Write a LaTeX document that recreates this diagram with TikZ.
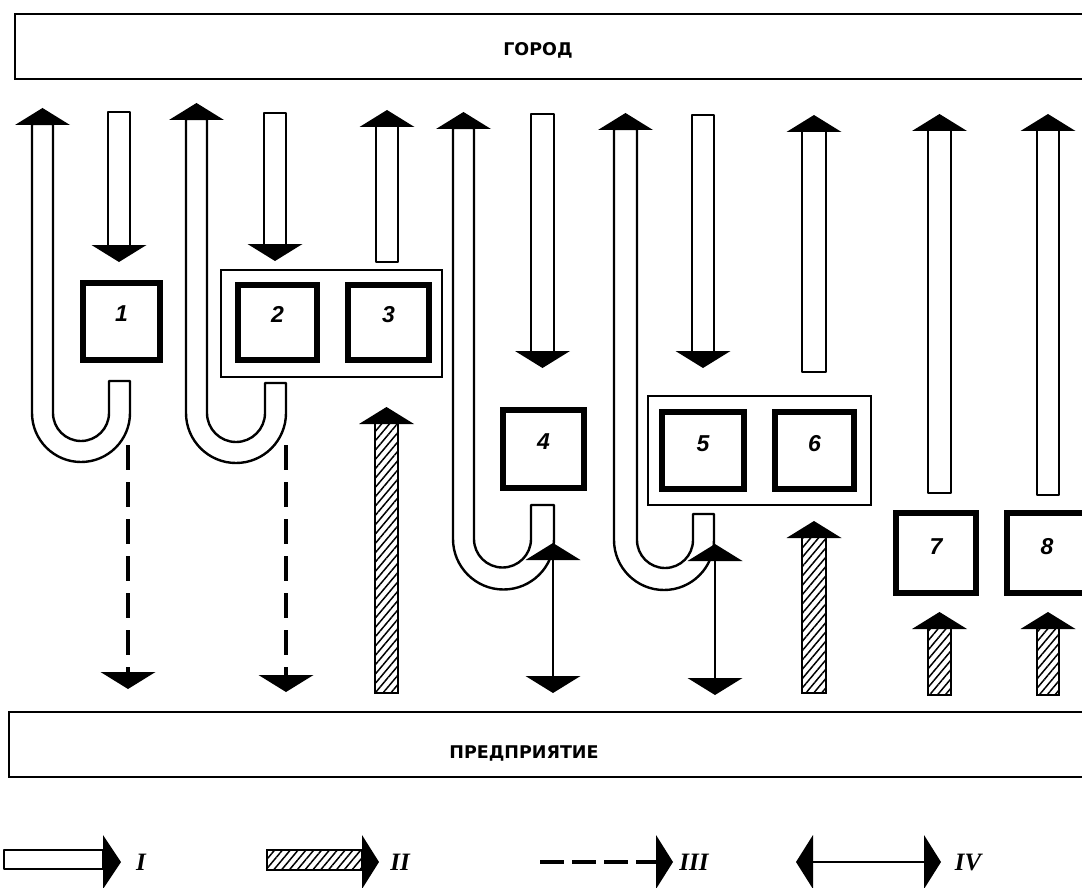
\documentclass[tikz,border=0pt]{standalone}
\usepackage{fontspec}
\setmainfont{Liberation Serif}
\newfontfamily\barfont{DejaVu Sans}
\newfontfamily\digitfont{Liberation Sans}
\usetikzlibrary{patterns.meta}

\newcommand\headUp[2]{\fill ({#1-27.5},{#2+17}) -- ({#1},{#2}) -- ({#1+27.5},{#2+17}) -- cycle;}
\newcommand\headDown[2]{\fill ({#1-27.5},{#2-17}) -- ({#1},{#2}) -- ({#1+27.5},{#2-17}) -- cycle;}
\newcommand\hollowUp[4]{%
  \draw[shaftline] (#1,#3) rectangle (#2,{#4+16});
  \headUp{(#1+#2)/2}{#4}}
\newcommand\hollowDown[4]{%
  \draw[shaftline] (#1,#3) rectangle (#2,{#4-16});
  \headDown{(#1+#2)/2}{#4}}
\newcommand\hatchUp[4]{%
  \draw[hatchline] (#1,#3) rectangle (#2,{#4+16});
  \headUp{(#1+#2)/2}{#4}}
\newcommand\uArrow[7]{%
  \draw[shaftline] (#3,#5) -- (#4,#5) -- (#4,#6)
    arc[start angle=0,end angle=180,radius={(#4-#1)/2}]
    -- (#1,{#7+16}) -- (#2,{#7+16}) -- (#2,#6)
    arc[start angle=180,end angle=0,radius={(#3-#2)/2}] -- cycle;
  \headUp{(#1+#2)/2}{#7}}

\begin{document}
\begin{tikzpicture}[x=1pt,y=-1pt,
  shaftline/.style={line width=2.4pt,fill=white,line join=round},
  hatchline/.style={line width=2.4pt,pattern={Lines[angle=50,distance=6pt,line width=1.5pt]}},
  dashline/.style={line width=3.2pt,dash pattern=on 25pt off 12pt},
  bothline/.style={line width=2.6pt},
  barline/.style={line width=2.8pt},
  box/.style={draw,line width=6.5pt,fill=white,inner sep=0pt,outer sep=0pt},
  grp/.style={draw,line width=2.4pt,inner sep=0pt,outer sep=0pt},
  num/.style={font=\digitfont\bfseries\itshape\fontsize{23}{23}\selectfont,inner sep=0pt},
  bartext/.style={font=\barfont\bfseries\fontsize{17.5}{17.5}\selectfont,inner sep=0pt},
  roman/.style={font=\bfseries\itshape\fontsize{25}{25}\selectfont,inner sep=0pt}]
\useasboundingbox (0,0) rectangle (1082,888);
\clip (0,0) rectangle (1082,888);

% bars
\draw[barline] (1084,14) -- (15,14) -- (15,79) -- (1084,79);
\node[bartext] (gorod) at (538,50) {ГОРОД};
\draw[barline] (1084,712) -- (9,712) -- (9,777) -- (1084,777);
\node[bartext] (pred) at (524,753) {ПРЕДПРИЯТИЕ};

% group frames
\node[grp,minimum width=221,minimum height=107] (g23) at (331.5,323.5) {};
\node[grp,minimum width=223,minimum height=109] (g56) at (759.5,450.5) {};

% U-shaped hollow arrows
\uArrow{32}{53}{109}{130}{381}{413}{108}
\uArrow{186}{207}{265}{286}{383}{413}{103}
\uArrow{453}{474}{531}{554}{505}{539}{112}
\uArrow{614}{637}{693}{714}{514}{540}{113}

% hollow down arrows
\hollowDown{108}{130}{112}{262}
\hollowDown{264}{286}{113}{261}
\hollowDown{531}{554}{114}{368}
\hollowDown{692}{714}{115}{368}

% hollow up arrows
\hollowUp{376}{398}{262}{110}
\hollowUp{802}{826}{372}{115}
\hollowUp{928}{951}{493}{114}
\hollowUp{1037}{1059}{495}{114}

% boxes
\node[box,minimum width=77,minimum height=77,label={[num,yshift=8pt]center:1}] (b1) at (121.5,321.5) {};
\node[box,minimum width=79,minimum height=75,label={[num,yshift=8pt]center:2}] (b2) at (277.5,322.5) {};
\node[box,minimum width=81,minimum height=75,label={[num,yshift=8pt]center:3}] (b3) at (388.5,322.5) {};
\node[box,minimum width=81,minimum height=78,label={[num,yshift=7pt]center:4}] (b4) at (543.5,449) {};
\node[box,minimum width=82,minimum height=77,label={[num,yshift=7pt]center:5}] (b5) at (703,450.5) {};
\node[box,minimum width=79,minimum height=77,label={[num,yshift=7pt]center:6}] (b6) at (814.5,450.5) {};
\node[box,minimum width=80,minimum height=80,label={[num,yshift=6pt]center:7}] (b7) at (936,553) {};
\node[box,minimum width=80,minimum height=80,label={[num,yshift=6pt]center:8}] (b8) at (1047,553) {};

% hatched up arrows
\hatchUp{375}{398}{693}{407}
\hatchUp{802}{826}{693}{521}
\hatchUp{928}{951}{695}{612}
\hatchUp{1037}{1059}{695}{612}

% dashed arrows
\coordinate (d1s) at (128,445); \coordinate (d1e) at (128,673);
\coordinate (d2s) at (286,445); \coordinate (d2e) at (286,676);
\draw[dashline] (d1s) -- (d1e); \headDown{128}{689}
\draw[dashline] (d2s) -- (d2e); \headDown{286}{692}

% double-headed arrows
\coordinate (e4s) at (553,559); \coordinate (e4e) at (553,677);
\coordinate (e5s) at (715,560); \coordinate (e5e) at (715,679);
\draw[bothline] (e4s) -- (e4e); \headUp{553}{543} \headDown{553}{693}
\draw[bothline] (e5s) -- (e5e); \headUp{715}{544} \headDown{715}{695}

% legend
\draw[shaftline] (4,850) rectangle (103,869);
\fill (103,835) -- (121,862) -- (103,889) -- cycle;
\node[roman] (lI) at (141,862) {I};
\draw[hatchline] (267,850) rectangle (362,870);
\fill (362,835) -- (379,862) -- (362,889) -- cycle;
\node[roman] (lII) at (400,862) {II};
\coordinate (l3s) at (540,862); \coordinate (l3e) at (656,862);
\draw[line width=3.4pt,dash pattern=on 24pt off 8pt] (l3s) -- (l3e);
\fill (656,835) -- (673,862) -- (656,889) -- cycle;
\node[roman] (lIII) at (694,862) {III};
\coordinate (l4s) at (813,862); \coordinate (l4e) at (924,862);
\draw[bothline] (l4s) -- (l4e);
\fill (813,835) -- (796,862) -- (813,889) -- cycle;
\fill (924,835) -- (941,862) -- (924,889) -- cycle;
\node[roman] (lIV) at (968,862) {IV};
\end{tikzpicture}
\end{document}
